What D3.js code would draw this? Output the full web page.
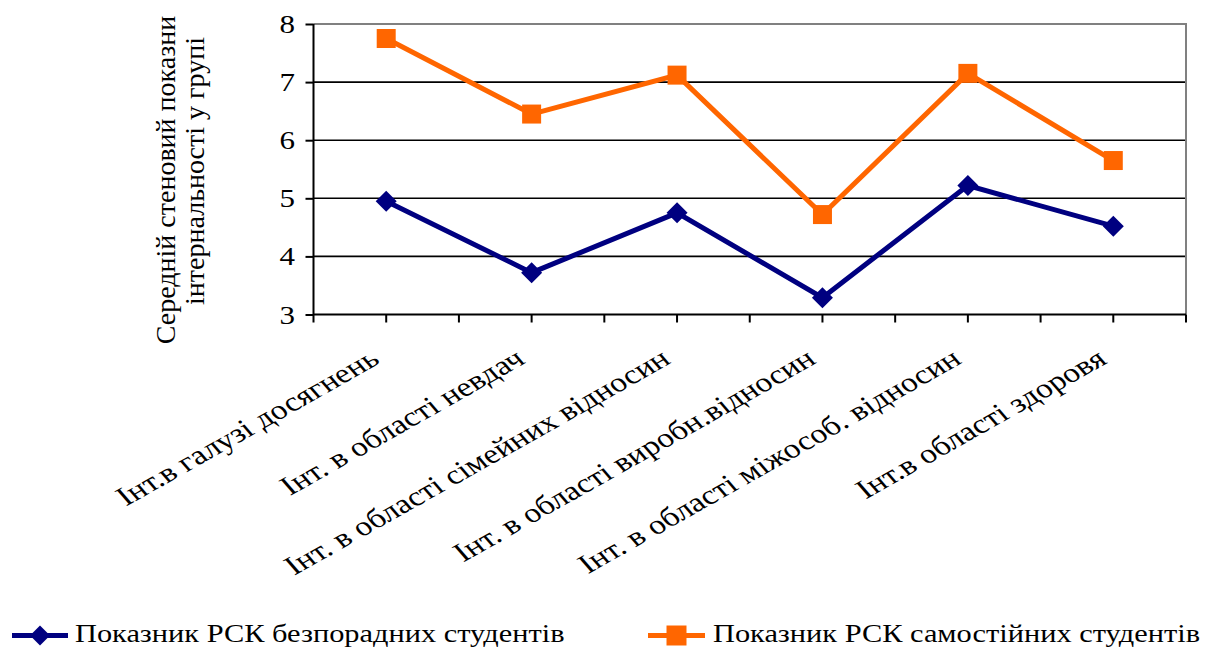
<!DOCTYPE html>
<html>
<head>
<meta charset="utf-8">
<script src="https://cdn.jsdelivr.net/npm/d3@7"></script>
<style>
  body { margin: 0; background: #fff; }
  svg { display: block; }
  .serif { font-family: "Liberation Serif", "Times New Roman", serif; fill: #000; }
</style>
</head>
<body>
<svg id="chart" width="1205" height="653"></svg>
<script>
// Categories of internality (РСК scales)
const categories = [
  "Інт.в галузі досягнень",
  "Інт. в області невдач",
  "Інт. в області сімейних відносин",
  "Інт. в області виробн.відносин",
  "Інт. в області міжособ. відносин",
  "Інт.в області здоровя"
];
// Mean sten score per group
const helplessValues    = [4.95, 3.72, 4.75, 3.29, 5.22, 4.52];
const independentValues = [7.75, 6.45, 7.12, 4.72, 7.15, 5.65];
const seriesNames = [
  "Показник РСК безпорадних студентів",
  "Показник РСК самостійних студентів"
];
const yTickValues = [3, 4, 5, 6, 7, 8];
const yTitleLines = ["Середній стеновий показни", "інтернальності у групі"];

const svg = d3.select("#chart");
const plot = { left: 313.5, right: 1186, top: 24, bottom: 314.5 };
const stretch = 1.24;   // wide glyph proportion of the text

const x = d3.scaleBand().domain(categories).range([plot.left, plot.right]).padding(0);
const y = d3.scaleLinear().domain([3, 8]).range([plot.bottom, plot.top]);
const cx = d => x(d) + x.bandwidth() / 2;

// Horizontal gridlines (black) for interior values
svg.append("g").selectAll("line")
  .data(yTickValues.filter(v => v > 3 && v < 8))
  .join("line")
  .attr("x1", plot.left).attr("x2", plot.right)
  .attr("y1", d => y(d)).attr("y2", d => y(d))
  .attr("stroke", "#000").attr("stroke-width", 1.6);

// Plot-area frame: top and right in grey
svg.append("path")
  .attr("d", `M${plot.left},${y(8)}H${plot.right}V${plot.bottom}`)
  .attr("fill", "none").attr("stroke", "#808080").attr("stroke-width", 2);

// Y axis
const yAxis = d3.axisLeft(y).tickValues(yTickValues).tickSize(8).tickFormat(d3.format("d"));
const gy = svg.append("g").attr("transform", `translate(${plot.left},0)`).call(yAxis);
gy.select(".domain").attr("stroke", "#000").attr("stroke-width", 2)
  .attr("d", `M0,${plot.top}V${plot.bottom + 8}`);
gy.selectAll(".tick line").attr("stroke", "#000").attr("stroke-width", 2);
gy.selectAll(".tick text")
  .attr("class", "serif")
  .attr("font-family", null)
  .attr("x", 0).attr("dy", null)
  .attr("transform", `translate(-18.5,8.5) scale(${stretch},1)`)
  .attr("text-anchor", "end")
  .attr("font-size", 25);

// X axis: ticks at each category centre and boundary
const xTickPos = [];
categories.forEach(c => { xTickPos.push(cx(c)); xTickPos.push(x(c) + x.bandwidth()); });
const gx = svg.append("g");
gx.append("line").attr("x1", plot.left).attr("x2", plot.right)
  .attr("y1", plot.bottom).attr("y2", plot.bottom)
  .attr("stroke", "#000").attr("stroke-width", 2);
gx.selectAll("line.tk").data(xTickPos).join("line").attr("class", "tk")
  .attr("x1", d => d).attr("x2", d => d)
  .attr("y1", plot.bottom).attr("y2", plot.bottom + 8)
  .attr("stroke", "#000").attr("stroke-width", 2);

// Slanted category labels
gx.selectAll("text").data(categories).join("text")
  .attr("class", "serif")
  .attr("transform", d => `translate(${cx(d) - 5},${plot.bottom + 48}) scale(${stretch},1) rotate(-35)`)
  .attr("text-anchor", "end")
  .attr("font-size", 27)
  .text(d => d);

// Y axis title (two lines, rotated)
svg.append("text").attr("class", "serif")
  .attr("transform", `translate(175,180) rotate(-90)`)
  .attr("text-anchor", "middle").attr("font-size", 28).text(yTitleLines[0]);
svg.append("text").attr("class", "serif")
  .attr("transform", `translate(204,171) rotate(-90)`)
  .attr("text-anchor", "middle").attr("font-size", 28).text(yTitleLines[1]);

// Series lines with markers
const line = d3.line().x((d, i) => cx(categories[i])).y(d => y(d));
const series = [
  { name: seriesNames[0], values: helplessValues, color: "#000080", marker: "diamond" },
  { name: seriesNames[1], values: independentValues, color: "#FF6600", marker: "square" }
];
const diamond = s => `M0,${-s}L${s},0L0,${s}L${-s},0Z`;
const square = s => `M${-s},${-s}H${s}V${s}H${-s}Z`;

series.forEach(s => {
  svg.append("path").datum(s.values)
    .attr("d", line).attr("fill", "none")
    .attr("stroke", s.color).attr("stroke-width", 5).attr("stroke-linejoin", "miter");
  svg.append("g").selectAll("path").data(s.values).join("path")
    .attr("transform", (d, i) => `translate(${cx(categories[i])},${y(d)})`)
    .attr("d", s.marker === "diamond" ? diamond(10.5) : square(9.5))
    .attr("fill", s.color);
});

// Legend
const legendItems = [
  { s: series[0], x0: 12, x1: 68, tx: 75 },
  { s: series[1], x0: 648, x1: 705, tx: 713 }
];
const ly = 635.5;
legendItems.forEach(it => {
  const g = svg.append("g");
  g.append("line").attr("x1", it.x0).attr("x2", it.x1).attr("y1", ly).attr("y2", ly)
    .attr("stroke", it.s.color).attr("stroke-width", 5);
  g.append("path").attr("transform", `translate(${(it.x0 + it.x1) / 2},${ly})`)
    .attr("d", it.s.marker === "diamond" ? diamond(10) : square(10))
    .attr("fill", it.s.color);
  g.append("text").attr("class", "serif")
    .attr("transform", `translate(${it.tx},642) scale(${stretch},1)`)
    .attr("font-size", 24.5).text(it.s.name);
});
</script>
</body>
</html>
